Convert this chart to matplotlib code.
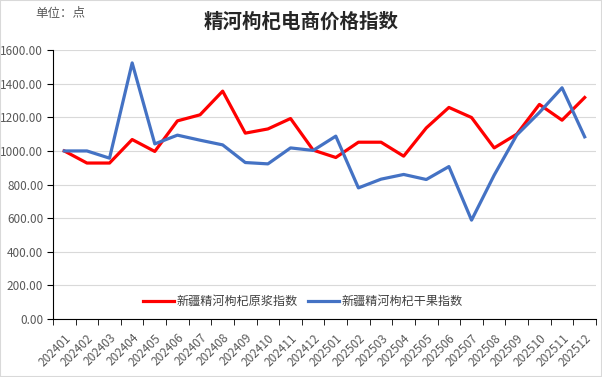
import matplotlib
matplotlib.use("Agg")
import matplotlib.pyplot as plt
import numpy as np
from matplotlib.patches import Rectangle

plt.rcParams["font.family"] = ["Noto Sans CJK SC", "DejaVu Sans"]

months = [
    "202401", "202402", "202403", "202404", "202405", "202406",
    "202407", "202408", "202409", "202410", "202411", "202412",
    "202501", "202502", "202503", "202504", "202505", "202506",
    "202507", "202508", "202509", "202510", "202511", "202512",
]
raw_index = [
    1000, 928, 928, 1068, 997, 1179, 1215, 1356, 1106, 1131, 1193, 1005,
    961, 1052, 1052, 969, 1137, 1259, 1199, 1018, 1100, 1277, 1183, 1318,
]
dried_index = [
    1000, 1000, 957, 1524, 1042, 1094, 1064, 1036, 931, 923, 1018, 1003,
    1088, 780, 832, 860, 830, 907, 588, 856, 1095, 1229, 1376, 1084,
]
raw_label = "新疆精河枸杞原浆指数"
dried_label = "新疆精河枸杞干果指数"

fig = plt.figure(figsize=(6.02, 3.77), dpi=100)
fig.patches.append(Rectangle((0, 0), 1, 1, transform=fig.transFigure,
                             fill=False, edgecolor="#d9d9d9", linewidth=1.5))
ax = fig.add_axes([0.088, 0.154, 0.902, 0.713])

x = np.arange(len(months))
ax.plot(x, raw_index, color="#ff0000", linewidth=2.3, label=raw_label)
ax.plot(x, dried_index, color="#4472c4", linewidth=2.3, label=dried_label)

ax.set_xlim(-0.5, len(months) - 0.5)
ax.set_ylim(0, 1600)
ax.set_yticks(np.arange(0, 1601, 200))
ax.yaxis.set_major_formatter(matplotlib.ticker.FormatStrFormatter("%.2f"))
ax.grid(axis="y", color="#d9d9d9", linewidth=0.8)
ax.set_axisbelow(True)

ax.set_xticks(x)
ax.set_xticklabels(months, rotation=45, ha="right", rotation_mode="anchor")
ax.set_xticks(np.arange(-0.5, len(months)), minor=True)
ax.tick_params(axis="x", which="major", length=0, pad=9, labelsize=8.5,
               labelcolor="#595959")
ax.tick_params(axis="x", which="minor", length=4, direction="out", color="black")
ax.tick_params(axis="y", length=4, direction="out", labelsize=8.5, pad=3,
               labelcolor="#595959")

for side in ["top", "right"]:
    ax.spines[side].set_visible(False)
ax.spines["left"].set_color("black")
ax.spines["bottom"].set_color("black")

ax.legend(loc="lower center", bbox_to_anchor=(0.46, 0.0), ncol=2, frameon=False,
          fontsize=8.7, handlelength=2.6, columnspacing=0.8, handletextpad=0.2,
          labelcolor="#404040")

fig.text(0.5, 0.942, "精河枸杞电商价格指数", ha="center", va="center",
         fontsize=14, fontweight="bold", color="#262626")
fig.text(0.058, 0.965, "单位：点", ha="left", va="center", fontsize=9,
         color="#595959")

fig.savefig("out.png", dpi=100)
